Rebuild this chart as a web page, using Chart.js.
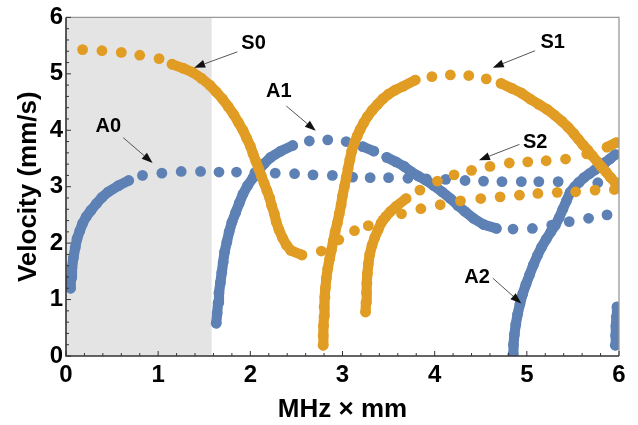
<!DOCTYPE html>
<html>
<head>
<meta charset="utf-8">
<script src="https://cdn.jsdelivr.net/npm/chart.js@4"></script>
<style>
html,body{margin:0;padding:0;background:#fff;}
#wrap{width:638px;height:425px;}
</style>
</head>
<body>
<div id="wrap"><canvas id="c" width="638" height="425"></canvas></div>
<script>
// ---- data ----
const xTicks = [0, 1, 2, 3, 4, 5, 6];
const yTicks = [0, 1, 2, 3, 4, 5, 6];
const shadeRange = [0, 1.58];

const A0 = [[0.05,1.20],[0.055,1.38],[0.065,1.56],[0.08,1.74],[0.10,1.92],[0.12,2.08],[0.15,2.22],[0.18,2.35],[0.22,2.47],[0.27,2.58],[0.33,2.70],[0.39,2.81],[0.46,2.91],[0.57,3.02],[0.68,3.11],[0.83,3.20],[1.04,3.24],[1.25,3.27],[1.46,3.27],[1.66,3.26],[1.85,3.26],[2.05,3.25],[2.27,3.24],[2.48,3.23],[2.68,3.21],[2.89,3.20],[3.11,3.17],[3.30,3.16],[3.50,3.16],[3.71,3.15],[3.91,3.14],[4.12,3.13],[4.33,3.11],[4.53,3.10],[4.73,3.09],[4.94,3.09],[5.13,3.09],[5.34,3.09],[5.56,3.07],[5.77,3.07],[5.98,3.05]];

const A1 = [[1.63,0.58],[1.64,0.76],[1.65,0.94],[1.66,1.12],[1.675,1.30],[1.69,1.48],[1.705,1.66],[1.72,1.84],[1.745,2.02],[1.77,2.20],[1.80,2.37],[1.84,2.54],[1.88,2.71],[1.92,2.87],[1.97,3.02],[2.03,3.16],[2.09,3.29],[2.15,3.41],[2.22,3.52],[2.33,3.63],[2.46,3.73],[2.64,3.81],[2.84,3.83],[3.04,3.80],[3.22,3.71],[3.34,3.63],[3.48,3.52],[3.58,3.44],[3.67,3.36],[3.74,3.27],[3.82,3.19],[3.90,3.12],[3.99,3.02],[4.08,2.91],[4.17,2.79],[4.25,2.67],[4.33,2.56],[4.42,2.44],[4.53,2.33],[4.67,2.26],[4.85,2.25],[5.06,2.26],[5.27,2.32],[5.46,2.38],[5.67,2.44],[5.87,2.50]];

const A2 = [[4.85,0.03],[4.855,0.20],[4.865,0.38],[4.88,0.56],[4.90,0.74],[4.925,0.92],[4.955,1.10],[4.99,1.27],[5.03,1.44],[5.07,1.61],[5.115,1.78],[5.16,1.93],[5.21,2.07],[5.26,2.20],[5.31,2.32],[5.35,2.45],[5.39,2.60],[5.43,2.75],[5.47,2.90],[5.52,3.00],[5.57,3.08],[5.62,3.16],[5.68,3.23],[5.74,3.30],[5.79,3.36],[5.85,3.43],[5.90,3.49],[5.96,3.57]];

const A3 = [[5.96,0.19],[5.963,0.36],[5.967,0.53],[5.972,0.70],[5.978,0.87]];

const S0 = [[0.18,5.43],[0.39,5.41],[0.60,5.38],[0.80,5.33],[1.01,5.27],[1.15,5.17],[1.27,5.10],[1.37,5.03],[1.47,4.92],[1.56,4.80],[1.63,4.68],[1.70,4.55],[1.76,4.42],[1.82,4.28],[1.87,4.14],[1.92,4.00],[1.96,3.86],[2.00,3.72],[2.03,3.58],[2.06,3.45],[2.09,3.32],[2.12,3.19],[2.15,3.06],[2.18,2.93],[2.21,2.80],[2.23,2.67],[2.26,2.52],[2.28,2.38],[2.31,2.24],[2.35,2.09],[2.39,1.97],[2.44,1.87],[2.56,1.79],[2.77,1.86],[2.96,2.06],[3.13,2.22],[3.28,2.31],[3.44,2.41],[3.64,2.52],[3.85,2.61],[4.06,2.68],[4.28,2.75],[4.50,2.79],[4.71,2.82],[4.92,2.85],[5.12,2.88],[5.33,2.90],[5.53,2.91],[5.74,2.94],[5.95,2.95]];

const S1 = [[2.79,0.19],[2.79,0.36],[2.795,0.53],[2.80,0.70],[2.80,0.87],[2.81,1.04],[2.815,1.21],[2.825,1.38],[2.84,1.55],[2.86,1.72],[2.88,1.88],[2.90,2.04],[2.92,2.20],[2.945,2.36],[2.965,2.52],[2.985,2.68],[3.00,2.84],[3.02,3.00],[3.04,3.16],[3.06,3.32],[3.08,3.48],[3.10,3.63],[3.13,3.78],[3.16,3.90],[3.19,4.01],[3.23,4.13],[3.27,4.24],[3.32,4.35],[3.38,4.46],[3.44,4.56],[3.50,4.64],[3.57,4.71],[3.66,4.78],[3.79,4.89],[3.97,4.95],[4.17,4.98],[4.37,4.97],[4.56,4.91],[4.72,4.83],[4.84,4.74],[4.94,4.66],[5.04,4.55],[5.13,4.46],[5.22,4.37],[5.30,4.27],[5.38,4.16],[5.45,4.05],[5.51,3.94],[5.56,3.84],[5.61,3.74],[5.66,3.65],[5.71,3.55],[5.76,3.45],[5.81,3.35],[5.86,3.26],[5.91,3.16],[5.96,3.07]];

const S2 = [[3.25,0.78],[3.255,0.95],[3.26,1.12],[3.265,1.29],[3.27,1.46],[3.28,1.63],[3.295,1.80],[3.32,1.96],[3.35,2.10],[3.385,2.23],[3.42,2.36],[3.47,2.47],[3.52,2.56],[3.58,2.65],[3.69,2.79],[3.84,2.94],[4.03,3.10],[4.21,3.21],[4.40,3.29],[4.60,3.36],[4.81,3.42],[5.01,3.44],[5.21,3.46],[5.42,3.49],[5.65,3.58],[5.87,3.70],[5.97,3.78]];

// mode labels: text position and arrow (from -> to), in data units
const labelText = ['S0', 'A1', 'A0', 'S1', 'S2', 'A2'];
const labelPos  = [[2.035,5.53],[2.31,4.68],[0.46,4.06],[5.28,5.55],[5.09,3.78],[4.46,1.40]];
const arrowFrom = [[1.86,5.39],[2.39,4.43],[0.62,3.87],[5.09,5.41],[4.92,3.75],[4.63,1.38]];
const arrowTo   = [[1.39,5.11],[2.71,3.99],[0.94,3.42],[4.63,5.11],[4.48,3.47],[4.94,0.93]];

// ---- styling ----
const FONT = "'Liberation Sans', Arial, Helvetica, sans-serif";
const BLUE = '#5E81B5';
const ORANGE = '#E19C24';
const DOT_R = 5.4;
const JOIN_DIST = 13.5;

function makeDs(label, pts, color, order) {
  return {
    label: label,
    data: pts.map(p => ({x: p[0], y: p[1]})),
    showLine: true,
    borderWidth: DOT_R * 2 - 0.6,
    borderColor: color,
    borderCapStyle: 'round',
    borderJoinStyle: 'round',
    segment: {
      borderColor: c => (Math.hypot(c.p1.x - c.p0.x, c.p1.y - c.p0.y) < JOIN_DIST ? color : 'rgba(0,0,0,0)')
    },
    backgroundColor: color,
    pointBackgroundColor: color,
    pointBorderWidth: 0,
    pointRadius: DOT_R,
    pointHoverRadius: DOT_R,
    tension: 0,
    order: order,
    clip: 0
  };
}

const shadePlugin = {
  id: 'shade',
  beforeDatasetsDraw(chart) {
    const {ctx, chartArea: a, scales: {x}} = chart;
    const x0 = x.getPixelForValue(shadeRange[0]);
    const x1 = x.getPixelForValue(shadeRange[1]);
    ctx.save();
    ctx.fillStyle = '#e4e4e4';
    ctx.fillRect(x0, a.top, x1 - x0, a.bottom - a.top);
    ctx.restore();
  }
};

const framePlugin = {
  id: 'frame',
  afterDatasetsDraw(chart) {
    const {ctx, chartArea: a, scales: {x, y}} = chart;
    ctx.save();
    ctx.lineWidth = 1.3;
    ctx.strokeStyle = '#999999';
    ctx.beginPath();
    ctx.moveTo(a.left, a.top); ctx.lineTo(a.right, a.top); ctx.lineTo(a.right, a.bottom);
    ctx.stroke();
    ctx.lineWidth = 1.6;
    ctx.strokeStyle = '#333333';
    ctx.beginPath();
    ctx.moveTo(a.left, a.top); ctx.lineTo(a.left, a.bottom); ctx.lineTo(a.right, a.bottom);
    ctx.stroke();
    ctx.lineWidth = 1;
    ctx.beginPath();
    for (let i = 0; i <= 30; i++) {
      const v = i * 0.2;
      const len = (i % 5 === 0) ? 5 : 3;
      const px = x.getPixelForValue(v);
      ctx.moveTo(px, a.bottom); ctx.lineTo(px, a.bottom - len);
      const py = y.getPixelForValue(v);
      ctx.moveTo(a.left, py); ctx.lineTo(a.left + len, py);
    }
    ctx.stroke();

    // annotations
    ctx.font = 'bold 20px ' + FONT;
    ctx.textAlign = 'center';
    ctx.textBaseline = 'middle';
    for (let i = 0; i < labelText.length; i++) {
      const tx = x.getPixelForValue(labelPos[i][0]);
      const ty = y.getPixelForValue(labelPos[i][1]);
      ctx.fillStyle = '#000';
      ctx.fillText(labelText[i], tx, ty);
      const ax0 = x.getPixelForValue(arrowFrom[i][0]), ay0 = y.getPixelForValue(arrowFrom[i][1]);
      const ax1 = x.getPixelForValue(arrowTo[i][0]), ay1 = y.getPixelForValue(arrowTo[i][1]);
      const ang = Math.atan2(ay1 - ay0, ax1 - ax0);
      const hl = 11, hw = 4;
      const bx = ax1 - hl * Math.cos(ang), by = ay1 - hl * Math.sin(ang);
      ctx.strokeStyle = '#555';
      ctx.lineWidth = 1;
      ctx.beginPath(); ctx.moveTo(ax0, ay0); ctx.lineTo(bx, by); ctx.stroke();
      ctx.fillStyle = '#111';
      ctx.beginPath();
      ctx.moveTo(ax1, ay1);
      ctx.lineTo(bx + hw * Math.sin(ang), by - hw * Math.cos(ang));
      ctx.lineTo(bx - hw * Math.sin(ang), by + hw * Math.cos(ang));
      ctx.closePath();
      ctx.fill();
    }
    ctx.restore();
  }
};

const tickFont = {family: FONT, size: 24, weight: 'bold'};
const titleFont = {family: FONT, size: 26, weight: 'bold'};

new Chart(document.getElementById('c'), {
  type: 'scatter',
  data: {
    datasets: [
      makeDs('S0', S0, ORANGE, 0),
      makeDs('S1', S1, ORANGE, 0),
      makeDs('S2', S2, ORANGE, 0),
      makeDs('A0', A0, BLUE, 1),
      makeDs('A1', A1, BLUE, 1),
      makeDs('A2', A2, BLUE, 1),
      makeDs('A3', A3, BLUE, 1)
    ]
  },
  options: {
    responsive: false,
    animation: false,
    devicePixelRatio: 1,
    events: [],
    layout: {padding: {left: 0, right: 19, top: 14, bottom: 0}},
    plugins: {legend: {display: false}, tooltip: {enabled: false}},
    scales: {
      x: {
        type: 'linear', position: 'bottom', min: 0, max: 6,
        afterBuildTicks: s => { s.ticks = xTicks.map(v => ({value: v})); },
        ticks: {font: tickFont, color: '#000', padding: 5, maxRotation: 0, autoSkip: false},
        grid: {display: false, drawTicks: false},
        border: {display: false},
        title: {display: true, text: 'MHz × mm', font: titleFont, color: '#000', padding: {top: 0, bottom: 0}},
        afterFit: s => { s.height = 69; }
      },
      y: {
        type: 'linear', position: 'left', min: 0, max: 6,
        afterBuildTicks: s => { s.ticks = yTicks.map(v => ({value: v})); },
        ticks: {font: tickFont, color: '#000', padding: 3, autoSkip: false},
        grid: {display: false, drawTicks: false},
        border: {display: false},
        title: {display: true, text: 'Velocity (mm/s)', font: titleFont, color: '#000', padding: {top: 13, bottom: 0}},
        afterFit: s => { s.width = 66; }
      }
    }
  },
  plugins: [shadePlugin, framePlugin]
});
</script>
</body>
</html>
